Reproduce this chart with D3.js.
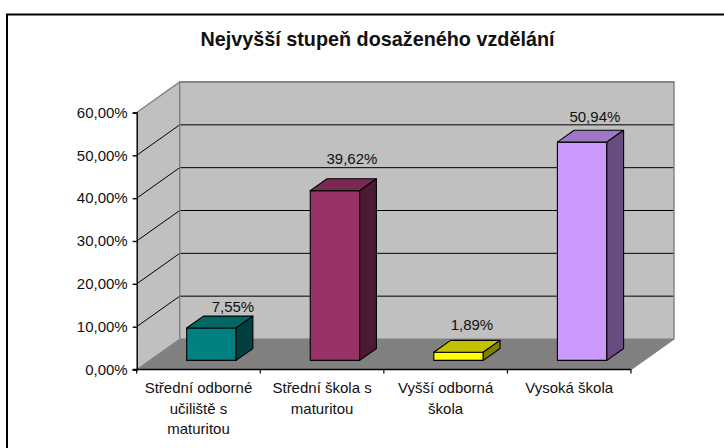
<!DOCTYPE html>
<html><head><meta charset="utf-8">
<script src="https://cdn.jsdelivr.net/npm/d3@7"></script>
<style>html,body{margin:0;padding:0;background:#fff}svg{display:block}text{font-family:"Liberation Sans",Arial,sans-serif;fill:#111}</style>
</head><body><svg id="c" width="724" height="448"></svg>
<script>
const chartTitle = "Nejvyšší stupeň dosaženého vzdělání";
const categories = ["Střední odborné učiliště s maturitou","Střední škola s maturitou","Vyšší odborná škola","Vysoká škola"];
const categoryLines = [["Střední odborné","učiliště s","maturitou"],["Střední škola s","maturitou"],["Vyšší odborná","škola"],["Vysoká škola"]];
const values = [7.55,39.62,1.89,50.94];
const valueLabels = ["7,55%","39,62%","1,89%","50,94%"];
const frontColors = ["#008080","#993366","#ffff00","#cc99ff"];
const topColors = ["#006666","#7a2952","#c2c200","#9e77c6"];
const sideColors = ["#004040","#4d1a33","#808000","#664d80"];
const yTicks = [0,10,20,30,40,50,60];
const labelNudgeX = [4.8,0.2,-3.4,-4];
const labelNudgeY = [-4,-15,-10,-8.5];

const svg = d3.select("#c");
const fx0=136.7, fx1=631, fy0=369.5, fy60=112.5, depthX=43, depthY=-30.5;
const x = d3.scaleBand().domain(categories).range([fx0,fx1]).paddingInner(0.6).paddingOuter(0.3);
const y = d3.scaleLinear().domain([0,60]).range([fy0,fy60]);
const dX = d3.scaleLinear().domain([0,1]).range([0,depthX]);
const dY = d3.scaleLinear().domain([0,1]).range([0,depthY]);
const poly = pts => pts.map(p=>p.join(",")).join(" ");
const barNear=0.3, barFar=0.69;

// frame
svg.append("path").attr("d","M7 448V14.5H724").attr("fill","none").attr("stroke","#000").attr("stroke-width",2);
svg.append("text").text(chartTitle).attr("x",377.5).attr("y",46).attr("text-anchor","middle").attr("font-weight","bold").attr("font-size",19.8);

// walls and floor
const wallG="#c0c0c0", edge="#808080";
svg.append("polygon").attr("points",poly([[fx0,y(0)],[fx0+depthX,y(0)+depthY],[fx0+depthX,y(60)+depthY],[fx0,y(60)]])).attr("fill",wallG);
svg.append("polygon").attr("points",poly([[fx0+depthX,y(0)+depthY],[fx1+depthX,y(0)+depthY],[fx1+depthX,y(60)+depthY],[fx0+depthX,y(60)+depthY]])).attr("fill",wallG);
svg.append("polygon").attr("points",poly([[fx0,y(0)],[fx1,y(0)],[fx1+depthX,y(0)+depthY],[fx0+depthX,y(0)+depthY]])).attr("fill",edge);

// gridlines
svg.append("g").selectAll("path").data(yTicks).join("path")
  .attr("d",d=>`M${fx0} ${y(d)}L${fx0+depthX} ${y(d)+depthY}H${fx1+depthX}`)
  .attr("fill","none")
  .attr("stroke",d=>(d===60||d===0)?edge:"#000")
  .attr("stroke-width",d=>(d===60)?1.4:1);
// wall edges
svg.append("path").attr("d",`M${fx0+depthX} ${y(0)+depthY}V${y(60)+depthY}H${fx1+depthX}V${y(0)+depthY}L${fx1} ${y(0)}`).attr("fill","none").attr("stroke",edge).attr("stroke-width",1.4);

// axes
const axisY = d3.axisLeft(y).tickValues(yTicks).tickSize(4).tickPadding(5).tickFormat(d=>d3.format(".2f")(d).replace(".",",")+"%");
const gy = svg.append("g").attr("transform",`translate(${fx0},0)`).call(axisY);
gy.selectAll("path,line").attr("stroke","#000").attr("stroke-width",1.4);
gy.selectAll("text").attr("font-size",15).attr("font-family",null).attr("fill","#111");

const gx = svg.append("g");
const stepW = x.step();
gx.append("line").attr("x1",fx0-4).attr("x2",fx1).attr("y1",y(0)).attr("y2",y(0)).attr("stroke","#000").attr("stroke-width",1.4);
gx.selectAll("line.t").data(d3.range(categories.length+1)).join("line").attr("class","t")
  .attr("x1",i=>fx0+i*stepW).attr("x2",i=>fx0+i*stepW).attr("y1",y(0)).attr("y2",y(0)+4).attr("stroke","#000").attr("stroke-width",1.2);

// bars
const bars = svg.append("g").selectAll("g").data(categories.map((c,i)=>({c,i,v:values[i]}))).join("g");
bars.each(function(d){
  const g=d3.select(this);
  const L=x(d.c), R=L+x.bandwidth();
  const nx=dX(barNear), ny=dY(barNear), fx=dX(barFar), fy=dY(barFar);
  const yb=y(0), yt=y(d.v);
  const st={stroke:"#000","stroke-width":1.1,"stroke-linejoin":"round"};
  const add=(pts,fill)=>{const p=g.append("polygon").attr("points",poly(pts)).attr("fill",fill);Object.entries(st).forEach(([k,v])=>p.attr(k,v));};
  add([[L+nx,yb+ny],[R+nx,yb+ny],[R+nx,yt+ny],[L+nx,yt+ny]],frontColors[d.i]);
  add([[L+nx,yt+ny],[R+nx,yt+ny],[R+fx,yt+fy],[L+fx,yt+fy]],topColors[d.i]);
  add([[R+nx,yb+ny],[R+fx,yb+fy],[R+fx,yt+fy],[R+nx,yt+ny]],sideColors[d.i]);
  g.append("text").text(valueLabels[d.i]).attr("text-anchor","middle").attr("font-size",15)
   .attr("x",(L+R)/2+fx+labelNudgeX[d.i]).attr("y",yt+fy+labelNudgeY[d.i]);
});

// category labels
const cat = svg.append("g").selectAll("text").data(categoryLines).join("text")
  .attr("text-anchor","middle").attr("font-size",15);
cat.each(function(lines,i){
  d3.select(this).selectAll("tspan").data(lines).join("tspan")
    .attr("x",x(categories[i])+x.bandwidth()/2).attr("y",(l,j)=>393+j*20.5).text(l=>l);
});
</script></body></html>
